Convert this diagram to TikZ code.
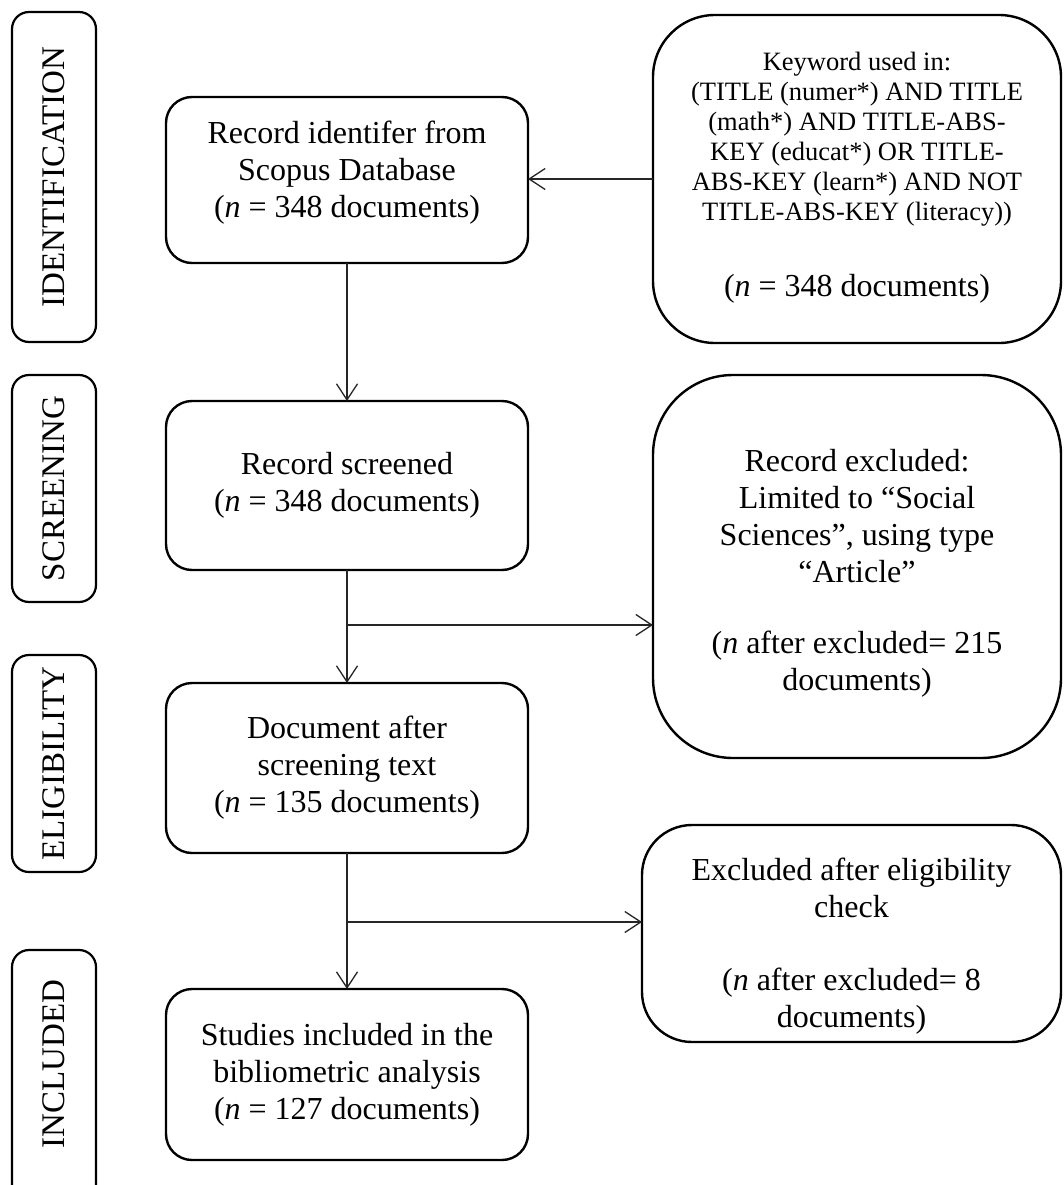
\documentclass[tikz,border=0pt]{standalone}
\usepackage{fontspec}
\setmainfont{Liberation Serif}
\usetikzlibrary{arrows.meta}
\begin{document}
\begin{tikzpicture}[x=1pt,y=-1pt,
  every node/.style={inner sep=0pt, outer sep=0pt},
  stagebox/.style={draw, line width=2.2pt, rounded corners=17pt, minimum height=84pt, rotate=90, font=\fontsize{33}{38}\selectfont},
  mainbox/.style={draw, line width=2.4pt, rounded corners=26pt, minimum width=362pt, align=center, font=\fontsize{32}{37}\selectfont},
  sidebox/.style={draw, line width=2.4pt, align=center, font=\fontsize{32}{37}\selectfont},
  conn/.style={line width=1.3pt, draw=black!85},
  arr/.style={conn, -{Straight Barb[length=16pt,width=21pt]}}
]
\useasboundingbox (0,0) rectangle (1064,1185);

% stage labels
\node[stagebox, minimum width=330pt] (s1) at (54,177) {IDENTIFICATION};
\node[stagebox, minimum width=227pt] (s2) at (54,488.5) {SCREENING};
\node[stagebox, minimum width=217pt] (s3) at (54,763.5) {ELIGIBILITY};
\node[stagebox, minimum width=256pt] (s4) at (54,1078) {\hspace*{28pt}INCLUDED};

% main column
\node[mainbox, minimum height=166pt] (b1) at (347,180) {Record identifer from\\Scopus Database\\(\textit{n} = 348 documents)\rule[-22pt]{0pt}{1pt}};
\node[mainbox, minimum height=169pt] (b2) at (347,485.5) {Record screened\\(\textit{n} = 348 documents)};
\node[mainbox, minimum height=170pt] (b3) at (347,768) {Document after\\screening text\\(\textit{n} = 135 documents)};
\node[mainbox, minimum height=171pt] (b4) at (347,1074.5) {Studies included in the\\bibliometric analysis\\(\textit{n} = 127 documents)};

% side boxes
\node[sidebox, font=\fontsize{26.5}{30}\selectfont, rounded corners=62pt, minimum width=408pt, minimum height=328pt] (kw) at (857,179)
  {Keyword used in:\\(TITLE (numer*) AND TITLE\\(math*) AND TITLE-ABS-\\KEY (educat*) OR TITLE-\\ABS-KEY (learn*) AND NOT\\TITLE-ABS-KEY (literacy))\\[46pt]{\fontsize{32}{37}\selectfont (\textit{n} = 348 documents)}\rule[-10pt]{0pt}{1pt}};
\node[sidebox, rounded corners=80pt, minimum width=408pt, minimum height=383pt] (ex1) at (857,566.5)
  {\rule{0pt}{35pt}Record excluded:\\Limited to “Social\\Sciences”, using type\\“Article”\\[34pt](\textit{n} after excluded= 215\\documents)};
\node[sidebox, rounded corners=50pt, minimum width=419pt, minimum height=217pt] (ex2) at (851.5,933.5)
  {\rule{0pt}{47pt}Excluded after eligibility\\check\\[36pt](\textit{n} after excluded= 8\\documents)};

% connectors
\coordinate (j1) at (347,625);
\coordinate (j2) at (347,922);
\draw[arr] (kw.west) -- (kw.west -| b1.east);
\draw[arr] (b1.south) -- (b2.north);
\draw[arr] (b2.south) -- (b3.north);
\draw[arr] (j1) -- (j1 -| ex1.west);
\draw[arr] (b3.south) -- (b4.north);
\draw[arr] (j2) -- (j2 -| ex2.west);
\end{tikzpicture}
\end{document}
